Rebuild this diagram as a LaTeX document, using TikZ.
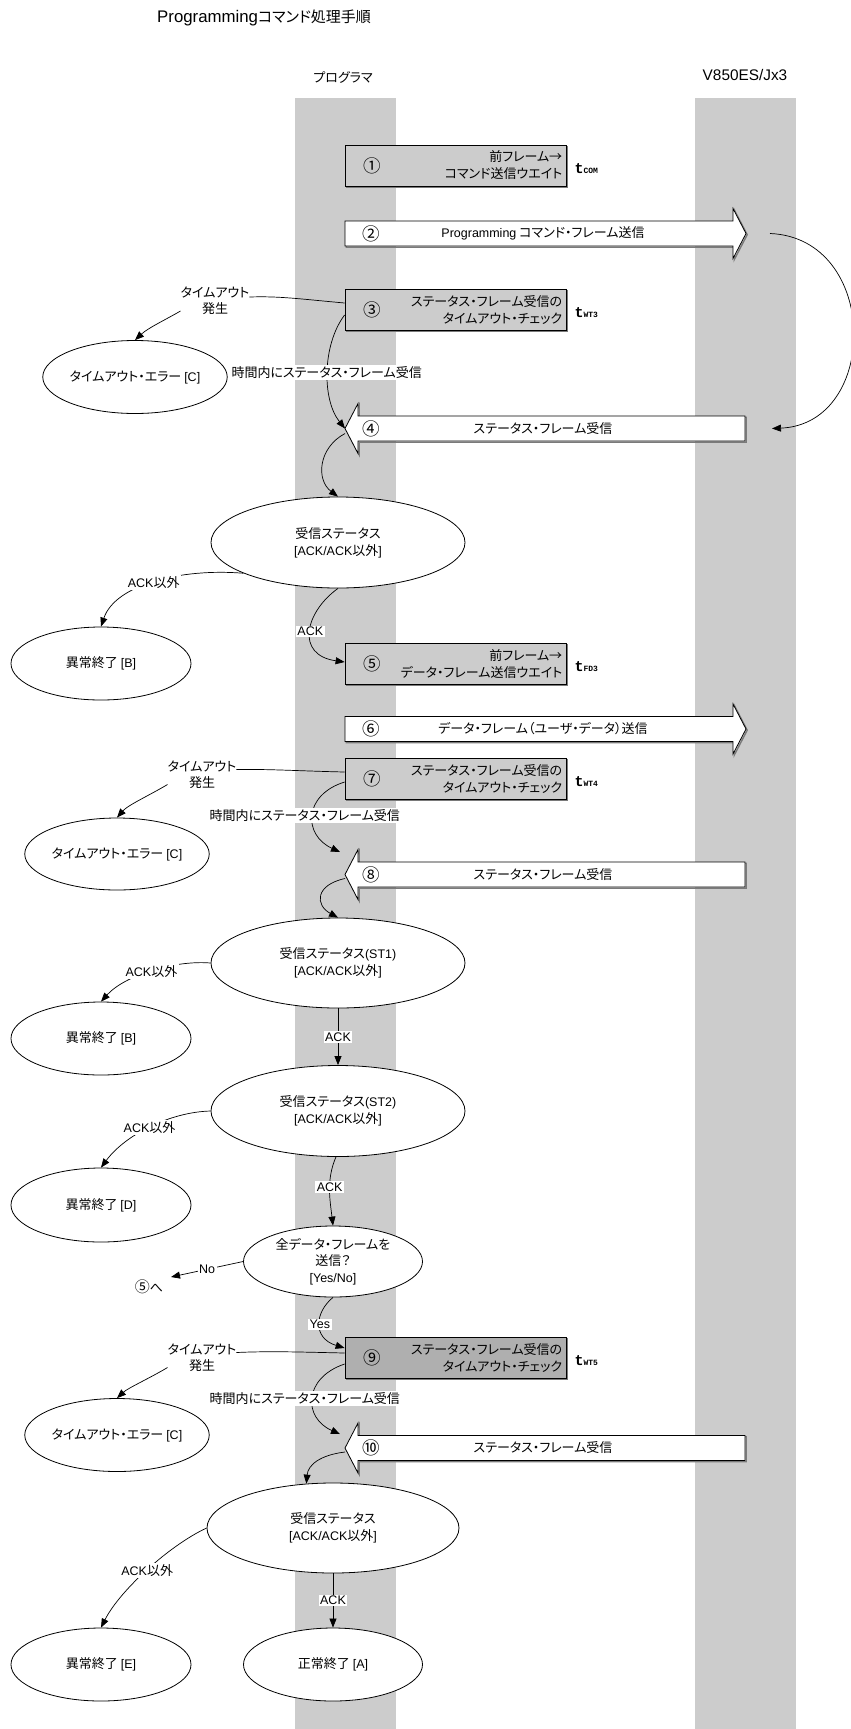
\documentclass[tikz,border=0pt]{standalone}
\usepackage{fontspec}
\setmainfont{Noto Sans CJK JP}[RawFeature={+palt}]
\newfontfamily\latf{Liberation Sans}[Scale=0.96]
\newfontfamily\tfnt{Liberation Mono}
\usetikzlibrary{shapes.geometric,arrows.meta,calc}
\definecolor{lanegray}{HTML}{CCCCCC}
\definecolor{boxgray}{HTML}{CCCCCC}
\definecolor{boxdark}{HTML}{AFAFAF}
\definecolor{shade}{HTML}{7A7A7A}
\newcommand{\tsym}[1]{{\tfnt\bfseries\fontsize{15}{15}\selectfont t}{\tfnt\bfseries\fontsize{8}{8}\selectfont #1}}
\begin{document}
\begin{tikzpicture}[x=1pt,y=-1pt,font=\fontsize{13}{17}\selectfont,
  lane/.style={fill=lanegray,draw=none},
  procbox/.style={draw=black,line width=0.8pt,fill=boxgray,minimum width=221pt,minimum height=41pt,inner sep=0pt,
    preaction={draw=shade,line width=1.4pt,transform canvas={xshift=1.2pt,yshift=-1.2pt}}},
  barrow/.style={draw=black,line width=0.8pt,fill=white,
    preaction={draw=shade,line width=1.4pt,transform canvas={xshift=1.2pt,yshift=-1.2pt}}},
  ell/.style={ellipse,draw=black,line width=0.8pt,fill=white,inner sep=0pt,align=center},
  lbl/.style={fill=white,inner sep=1.5pt},
  conn/.style={line width=0.7pt},
  arr/.style={conn,-{Triangle[length=9pt,width=7pt]}},
  num/.style={font=\fontsize{17.5}{17.5}\selectfont,inner sep=0pt},
  btxt/.style={align=right,anchor=east,inner sep=0pt},
  tlab/.style={anchor=base west,inner sep=0pt},
  tol/.style={align=center,inner sep=0pt,font=\fontsize{13}{16}\selectfont}]
\useasboundingbox (0,0) rectangle (851,1729);
% lanes
\fill[lane] (295,98) rectangle (396,1729);
\fill[lane] (695,98) rectangle (796,1729);
% title and headers
\node[anchor=west,inner sep=0pt] (title) at (157,18) {{\latf\fontsize{17.5}{20}\selectfont Programming}{\fontsize{15}{18}\selectfont コマンド処理手順}};
\node (hp) at (343,77) {プログラマ};
\node (hv) at (745,75) {\latf\fontsize{16}{18}\selectfont V850ES/Jx3};

% coordinates
\coordinate (a2out) at (770,233.5);
\coordinate (a4in) at (772,428.5);
\coordinate (a4tip) at (345,428.5);
\coordinate (a8tip) at (345,874.5);
\coordinate (a8in) at (340,852);
\coordinate (a10tip) at (345,1448);
\coordinate (a10in) at (340,1434);
\coordinate (noend) at (171,1277);

% block arrows
\draw[barrow] (345,221) -- (733,221) -- (733,208.5) -- (746,233.5) -- (733,258.5) -- (733,246) -- (345,246) -- cycle;
\draw[barrow] (745,416) -- (358,416) -- (358,403.5) -- (345,428.5) -- (358,453.5) -- (358,441) -- (745,441) -- cycle;
\draw[barrow] (345,716.5) -- (733,716.5) -- (733,704) -- (746,729) -- (733,754) -- (733,741.5) -- (345,741.5) -- cycle;
\draw[barrow] (745,862) -- (358,862) -- (358,849.5) -- (345,874.5) -- (358,899.5) -- (358,887) -- (745,887) -- cycle;
\draw[barrow] (745,1435.5) -- (358,1435.5) -- (358,1423) -- (345,1448) -- (358,1473) -- (358,1460.5) -- (745,1460.5) -- cycle;
\node[num] (a2n) at (371,233.5) {②};
\node (a2t) at (543,233.5) {{\latf Programming} コマンド・フレーム送信};
\node[num] (a4n) at (371,428.5) {④};
\node (a4t) at (543,428.5) {ステータス・フレーム受信};
\node[num] (a6n) at (371,729) {⑥};
\node (a6t) at (543,729) {データ・フレーム（ユーザ・データ）送信};
\node[num] (a8n) at (371,874.5) {⑧};
\node (a8t) at (543,874.5) {ステータス・フレーム受信};
\node[num] (a10n) at (371,1448) {⑩};
\node (a10t) at (543,1448) {ステータス・フレーム受信};

% process boxes
\node[procbox] (b1) at (455.5,165.5) {};
\node[btxt] (b1t) at ([xshift=-4pt]b1.east) {前フレーム→\\コマンド送信ウエイト};
\node[num] (b1n) at (372,165.5) {①};
\node[tlab] (t1) at ([xshift=8pt,yshift=-7.5pt]b1.east) {\tsym{COM}};

\node[procbox] (b3) at (455.5,310) {};
\node[btxt] (b3t) at ([xshift=-4pt]b3.east) {ステータス・フレーム受信の\\タイムアウト・チェック};
\node[num] (b3n) at (372,310) {③};
\node[tlab] (t3) at ([xshift=8pt,yshift=-7.5pt]b3.east) {\tsym{WT3}};

\node[procbox] (b5) at (455.5,664) {};
\node[btxt] (b5t) at ([xshift=-4pt]b5.east) {前フレーム→\\データ・フレーム送信ウエイト};
\node[num] (b5n) at (372,664) {⑤};
\node[tlab] (t5) at ([xshift=8pt,yshift=-7.5pt]b5.east) {\tsym{FD3}};

\node[procbox] (b7) at (455.5,779) {};
\node[btxt] (b7t) at ([xshift=-4pt]b7.east) {ステータス・フレーム受信の\\タイムアウト・チェック};
\node[num] (b7n) at (372,779) {⑦};
\node[tlab] (t7) at ([xshift=8pt,yshift=-7.5pt]b7.east) {\tsym{WT4}};

\node[procbox,fill=boxdark] (b9) at (455.5,1358) {};
\node[btxt] (b9t) at ([xshift=-4pt]b9.east) {ステータス・フレーム受信の\\タイムアウト・チェック};
\node[num] (b9n) at (372,1358) {⑨};
\node[tlab] (t9) at ([xshift=8pt,yshift=-7.5pt]b9.east) {\tsym{WT5}};

% ellipses
\node[ell,minimum width=179pt,minimum height=73pt] (to1) at (135,377) {タイムアウト・エラー {\latf[C]}};
\node[ell,minimum width=254pt,minimum height=91pt] (rs1) at (338,542.5) {受信ステータス\\{\latf[ACK/ACK}以外{\latf]}};
\node[ell,minimum width=180pt,minimum height=73pt] (ab1) at (101,663.5) {異常終了 {\latf[B]}};
\node[ell,minimum width=179pt,minimum height=72pt] (to2) at (117,854) {タイムアウト・エラー {\latf[C]}};
\node[ell,minimum width=254pt,minimum height=90pt] (st1) at (338,963) {受信ステータス{\latf(ST1)}\\{\latf[ACK/ACK}以外{\latf]}};
\node[ell,minimum width=180pt,minimum height=73pt] (ab2) at (101,1038.5) {異常終了 {\latf[B]}};
\node[ell,minimum width=254pt,minimum height=91pt] (st2) at (338,1111) {受信ステータス{\latf(ST2)}\\{\latf[ACK/ACK}以外{\latf]}};
\node[ell,minimum width=180pt,minimum height=74pt] (ad) at (101,1205) {異常終了 {\latf[D]}};
\node[ell,minimum width=179pt,minimum height=71pt,font=\fontsize{13}{16.5}\selectfont] (all) at (333,1261.5) {全データ・フレームを\\送信？\\{\latf[Yes/No]}};
\node[ell,minimum width=179pt,minimum height=73pt] (to3) at (117,1435) {タイムアウト・エラー {\latf[C]}};
\node[ell,minimum width=252pt,minimum height=90pt] (rs3) at (333,1528) {受信ステータス\\{\latf[ACK/ACK}以外{\latf]}};
\node[ell,minimum width=180pt,minimum height=73pt] (ae) at (101,1664.5) {異常終了 {\latf[E]}};
\node[ell,minimum width=179pt,minimum height=73pt] (ok) at (333,1664.5) {正常終了 {\latf[A]}};

% timeout labels
\node[tol] (to1l) at (215,301) {タイムアウト\\発生};
\node[tol] (to2l) at (202,774.5) {タイムアウト\\発生};
\node[tol] (to3l) at (202,1357.5) {タイムアウト\\発生};
\node (to5) at (149,1287) {{\fontsize{15}{15}\selectfont ⑤}へ};

% connectors
\draw[arr] (a2out) .. controls (880,238) and (880,424) .. (a4in);

\draw[conn] ([yshift=7pt]b3.west) .. controls (300,299) and (280,296) .. ([yshift=4pt]to1l.east);
\draw[arr] ([yshift=-10pt]to1l.west) .. controls (165,320) and (148,328) .. (to1.north);
\draw[arr] ([yshift=-5pt]b3.west) .. controls (322,345) and (322,400) .. (a4tip)
  node[lbl,pos=0.5,xshift=-1pt] (l3) {時間内にステータス・フレーム受信};
\draw[arr] ([yshift=-5pt]a4tip) .. controls (318,448) and (316,480) .. (rs1.north);
\draw[arr] (rs1.198) .. controls (180,568) and (115,585) .. (ab1.north)
  node[lbl,pos=0.5] (l4) {{\latf ACK}以外};
\draw[arr] (rs1.south) .. controls (305,612) and (295,655) .. ([yshift=2pt]b5.west)
  node[lbl,pos=0.5] (l5) {\latf ACK};

\draw[conn] ([yshift=7pt]b7.west) .. controls (300,771) and (270,769) .. ([yshift=5pt]to2l.east);
\draw[arr] ([yshift=-10pt]to2l.west) .. controls (150,795) and (128,805) .. (to2.north);
\draw[arr] ([yshift=-3pt]b7.west) .. controls (303,795) and (303,835) .. (a8in)
  node[lbl,pos=0.5,xshift=-8pt] (l7) {時間内にステータス・フレーム受信};
\draw[arr] ([yshift=-4pt]a8tip) .. controls (315,885) and (315,905) .. (st1.north);
\draw[arr] (st1.west) .. controls (175,960) and (125,975) .. (ab2.north)
  node[lbl,pos=0.5] (l8) {{\latf ACK}以外};
\draw[arr] (st1.south) -- (st2.north) node[lbl,midway] (l9) {\latf ACK};
\draw[arr] (st2.west) .. controls (170,1112) and (125,1135) .. (ad.north)
  node[lbl,pos=0.5] (l10) {{\latf ACK}以外};
\draw[arr] ([xshift=-2pt]st2.south) .. controls (326,1180) and (330,1200) .. (all.north)
  node[lbl,pos=0.45] (l11) {\latf ACK};
\draw[arr] (all.west) -- (noend) node[lbl,pos=0.5] (l12) {\latf No};
\draw[arr] (all.south) .. controls (315,1312) and (312,1338) .. ([yshift=10pt]b9.west)
  node[lbl,pos=0.5] (l13) {\latf Yes};

\draw[conn] ([yshift=5pt]b9.west) .. controls (300,1352) and (270,1351) .. ([yshift=5pt]to3l.east);
\draw[arr] ([yshift=-10pt]to3l.west) .. controls (150,1378) and (128,1388) .. (to3.north);
\draw[arr] ([yshift=-6pt]b9.west) .. controls (303,1378) and (303,1418) .. (a10in)
  node[lbl,pos=0.5,xshift=-8pt] (l14) {時間内にステータス・フレーム受信};
\draw[arr] ([yshift=-4pt]a10tip) .. controls (320,1455) and (308,1465) .. (rs3.121);
\draw[arr] (rs3.west) .. controls (170,1545) and (120,1590) .. (ae.north)
  node[lbl,pos=0.5] (l15) {{\latf ACK}以外};
\draw[arr] (rs3.south) -- (ok.north) node[lbl,midway] (l16) {\latf ACK};
\end{tikzpicture}
\end{document}
